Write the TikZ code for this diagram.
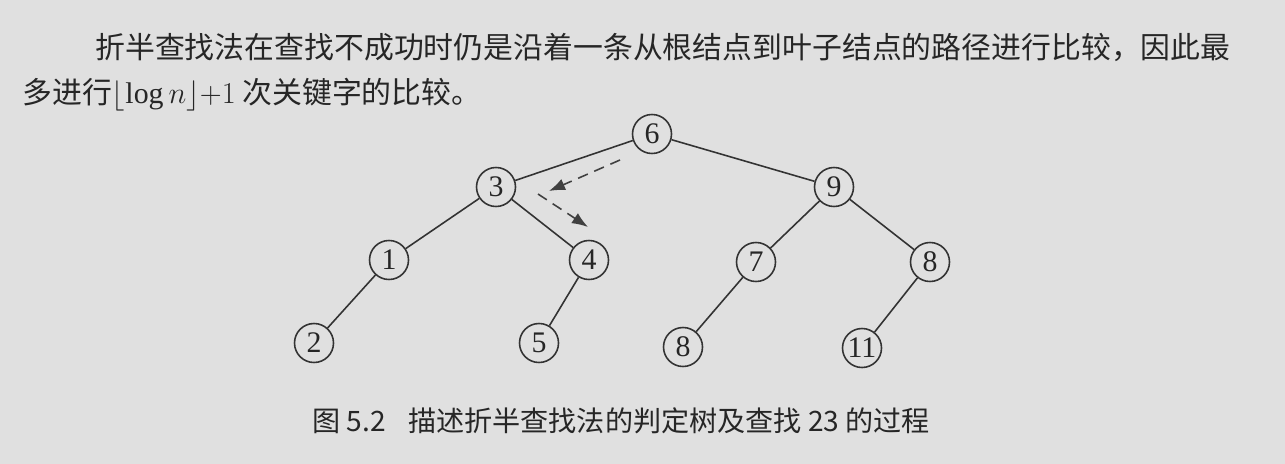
\documentclass[tikz,border=0pt]{standalone}
\usepackage{fontspec}
\setmainfont{Liberation Serif}
\newfontfamily\cjk{Noto Sans CJK SC}
\usetikzlibrary{arrows.meta,positioning}
\tikzset{>=Latex}

\begin{document}
\begin{tikzpicture}[
    x=0.2mm, y=-0.2mm,
    key/.style={draw=black!80, circle, line width=0.9pt, minimum size=7.8mm, inner sep=0pt, font=\fontsize{17}{17}\selectfont},
    edge/.style={draw=black!80, line width=0.9pt},
    search/.style={->, draw=black!75, line width=0.9pt, dash pattern=on 6pt off 4pt, >={Latex[length=3.2mm,width=2.4mm]}},
    every node/.style={text=black!85}
  ]
    \fill[black!12] (0,0) rectangle (1285,464);
    \useasboundingbox (0,0) rectangle (1285,464);
    % text above the figure
    \node[anchor=west, inner sep=0pt, font=\cjk\fontsize{17}{18}\selectfont] (line1) at (95,47)
      {折半查找法在查找不成功时仍是沿着一条从根结点到叶子结点的路径进行比较，因此最};
    \node[anchor=west, inner sep=0pt, font=\cjk\fontsize{17}{18}\selectfont] (line2) at (22,95)
      {多进行$\lfloor\log n\rfloor{+}1$ 次关键字的比较。};
    % decision tree
    \node[key] (k6) at (652,134) {6};
    \node[key] (k3) at (496,187) {3};
    \node[key] (k9) at (834,187) {9};
    \node[key] (k1) at (389,260) {1};
    \node[key] (k4) at (589,260) {4};
    \node[key] (k7) at (756,262) {7};
    \node[key] (k8) at (930,262) {8};
    \node[key] (k2) at (314,343) {2};
    \node[key] (k5) at (539,343) {5};
    \node[key] (k8b) at (683,347) {8};
    \node[key] (k11) at (862,348) {11};
    \draw[edge] (k6) -- (k3);
    \draw[edge] (k6) -- (k9);
    \draw[edge] (k3) -- (k1);
    \draw[edge] (k3) -- (k4);
    \draw[edge] (k9) -- (k7);
    \draw[edge] (k9) -- (k8);
    \draw[edge] (k1) -- (k2);
    \draw[edge] (k4) -- (k5);
    \draw[edge] (k7) -- (k8b);
    \draw[edge] (k8) -- (k11);
    % search path for 23
    \coordinate (s1) at (620,160);
    \coordinate (s2) at (549,191);
    \coordinate (s3) at (538,194);
    \coordinate (s4) at (588,227);
    \draw[search] (s1) -- (s2);
    \draw[search] (s3) -- (s4);
    % caption
    \node[anchor=west, inner sep=0pt, font=\cjk\fontsize{16}{17}\selectfont] (cap) at (312,421)
      {图 5.2\hspace{0.8em}描述折半查找法的判定树及查找 23 的过程};
  \end{tikzpicture}
\end{document}
